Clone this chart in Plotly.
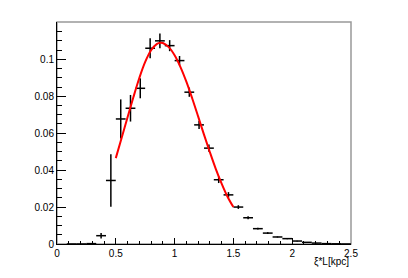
import plotly.graph_objects as go

# Histogram data (bin centres, contents, errors)
bin_centers = [0.125, 0.208, 0.292, 0.375, 0.458, 0.542, 0.625, 0.708, 0.792, 0.875,
               0.958, 1.042, 1.125, 1.208, 1.292, 1.375, 1.458, 1.542, 1.625, 1.708,
               1.792, 1.875, 1.958, 2.042, 2.125, 2.208, 2.292, 2.375, 2.458]
bin_values = [0.0, 0.0, 0.0002, 0.0045, 0.0344, 0.0677, 0.0735, 0.0843, 0.1060, 0.1100,
              0.1074, 0.0993, 0.0822, 0.0645, 0.0519, 0.0348, 0.0266, 0.0200, 0.0142, 0.0083,
              0.0059, 0.0038, 0.0029, 0.0016, 0.0009, 0.0005, 0.0002, 0.0001, 0.0]
bin_errors = [0.0, 0.0, 0.0002, 0.0015, 0.0142, 0.0106, 0.0072, 0.0054, 0.0054, 0.0040,
              0.0030, 0.0025, 0.0025, 0.0022, 0.0020, 0.0018, 0.0015, 0.0010, 0.0008, 0.0005,
              0.0005, 0.0003, 0.0003, 0.0002, 0.0002, 0.0001, 0.0001, 0.0, 0.0]
half_bin_width = 2.5 / 30 / 2

# Fit curve samples
fit_x = [0.50, 0.55, 0.60, 0.65, 0.70, 0.75, 0.80, 0.85, 0.88, 0.90, 0.95, 1.00, 1.05,
         1.10, 1.15, 1.20, 1.25, 1.30, 1.35, 1.40, 1.45, 1.50]
fit_y = [0.0465, 0.0575, 0.0686, 0.0796, 0.0899, 0.0986, 0.1049, 0.1084, 0.1090, 0.1088,
         0.1066, 0.1022, 0.0958, 0.0879, 0.0788, 0.0691, 0.0592, 0.0497, 0.0407, 0.0327,
         0.0256, 0.0200]

x_tick_vals = [0, 0.5, 1, 1.5, 2, 2.5]
x_tick_text = ["0", "0.5", "1", "1.5", "2", "2.5"]
y_tick_vals = [0, 0.02, 0.04, 0.06, 0.08, 0.1]
y_tick_text = ["0", "0.02", "0.04", "0.06", "0.08", "0.1"]

FONT = "Liberation Sans, Arial, Helvetica, sans-serif"

fig = go.Figure()
fig.add_trace(go.Scatter(
    x=bin_centers, y=bin_values, mode="markers",
    marker=dict(size=1, color="rgba(0,0,0,0)"),
    error_x=dict(type="constant", value=half_bin_width, width=0, thickness=1.5, color="black"),
    error_y=dict(type="data", array=bin_errors, width=0, thickness=1.5, color="black"),
    showlegend=False, hoverinfo="skip",
))
fig.add_trace(go.Scatter(
    x=fit_x, y=fit_y, mode="lines", line=dict(color="#ff0000", width=2, shape="spline"),
    showlegend=False, hoverinfo="skip",
))

fig.add_shape(type="rect", xref="paper", yref="paper", x0=0, y0=0, x1=1, y1=1,
              line=dict(color="#999999", width=1.5), layer="below")

fig.update_layout(
    width=400, height=270,
    margin=dict(l=49, r=57, t=14, b=34),
    paper_bgcolor="white", plot_bgcolor="white",
    font=dict(family=FONT, size=10, color="black"),
    xaxis=dict(range=[0, 2.5], showgrid=False, zeroline=False,
               showline=True, linecolor="black", linewidth=1,
               ticks="inside", ticklen=6, tickcolor="black", tickwidth=1,
               tickvals=x_tick_vals, ticktext=x_tick_text,
               minor=dict(dtick=0.1, tick0=0, ticks="inside", ticklen=3,
                          tickcolor="black", showgrid=False),
               tickfont=dict(size=10, family=FONT)),
    yaxis=dict(range=[0, 0.1202], showgrid=False, zeroline=False,
               showline=True, linecolor="black", linewidth=1,
               ticks="inside", ticklen=9, tickcolor="black", tickwidth=1,
               tickvals=y_tick_vals, ticktext=y_tick_text,
               minor=dict(dtick=0.005, tick0=0, ticks="inside", ticklen=5,
                          tickcolor="black", showgrid=False),
               tickfont=dict(size=10, family=FONT)),
    annotations=[dict(text="ξ*L[kpc]", xref="paper", yref="paper", x=1, y=-0.081,
                      xanchor="right", yanchor="middle", showarrow=False,
                      font=dict(size=10, family=FONT))],
)

fig.write_html("out.html")
